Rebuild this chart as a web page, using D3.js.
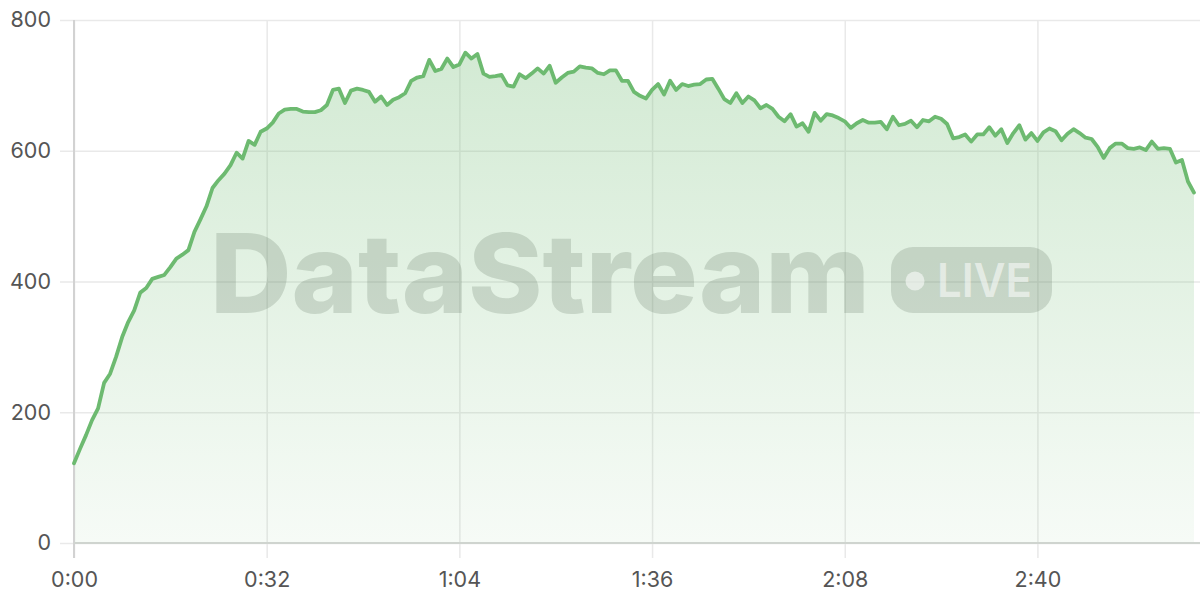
<!DOCTYPE html>
<html>
<head>
<meta charset="utf-8">
<script src="https://cdn.jsdelivr.net/npm/d3@7"></script>
<style>
  html, body { margin: 0; padding: 0; background: #fff; }
  svg { display: block; }
</style>
</head>
<body>
<svg id="chart" width="1200" height="600"></svg>
<script>
// ---- data (one sample per second) ----
const values = [
  122,144,165,188,206,245,259,285,315,338,
  356,383,390,404,407,410,422,435,441,448,
  476,495,515,543,555,565,578,597,588,615,
  609,629,634,643,657,663,664,664,660,659,
  659,662,670,693,695,673,692,695,693,690,
  675,683,670,678,682,688,707,712,714,739,
  722,725,741,728,732,750,741,748,718,713,
  714,716,700,698,717,711,718,726,718,730,
  704,712,719,721,729,727,726,719,717,723,
  723,707,707,690,684,680,693,702,686,707,
  693,702,699,701,702,709,710,695,679,673,
  688,673,683,677,665,670,664,652,645,656,
  637,642,629,658,646,656,654,650,645,635,
  642,647,643,643,644,633,652,639,641,646,
  636,647,645,652,649,641,619,621,625,614,
  625,625,636,623,633,612,627,639,617,627,
  615,628,634,630,616,626,633,627,620,618,
  606,589,604,611,611,604,603,605,601,614,
  603,604,603,582,586,553,536
];
const seconds = values.map((v, i) => i);
const xTicks = [0, 32, 64, 96, 128, 160];
const yTicks = [0, 200, 400, 600, 800];
const watermarkText = "DataStream";
const badgeText = "LIVE";

const data = seconds.map((t, i) => ({ t, v: values[i] }));

// ---- layout ----
const mLeft = 74, mRight = 1200, mTop = 20, mBottom = 543;

const svg = d3.select("#chart");

const x = d3.scaleLinear().domain([0, 187]).range([mLeft, mRight]);
const y = d3.scaleLinear().domain([0, 800]).range([mBottom, mTop]);

const fmt = s => `${Math.floor(s / 60)}:${String(s % 60).padStart(2, "0")}`;

// gradient
const defs = svg.append("defs");
const grad = defs.append("linearGradient")
  .attr("id", "areaGrad")
  .attr("gradientUnits", "userSpaceOnUse")
  .attr("x1", 0).attr("x2", 0)
  .attr("y1", mTop).attr("y2", mBottom);
grad.append("stop").attr("offset", "0%").attr("stop-color", "#6dba70").attr("stop-opacity", 0.32);
grad.append("stop").attr("offset", "100%").attr("stop-color", "#6dba70").attr("stop-opacity", 0.06);

// horizontal grid (y axis)
const yAxis = d3.axisLeft(y)
  .tickValues(yTicks)
  .tickSize(0)
  .tickFormat(d3.format("d"));
const gy = svg.append("g")
  .attr("transform", `translate(${mLeft},0)`)
  .call(yAxis);
gy.select(".domain").remove();
gy.selectAll(".tick line")
  .attr("x1", -14)
  .attr("x2", mRight - mLeft)
  .attr("stroke", "#e9e9e9")
  .attr("stroke-width", 1.5);
gy.selectAll(".tick text")
  .attr("x", -23)
  .attr("fill", "#555")
  .style("font-family", "Inter, 'Noto Sans', sans-serif")
  .style("font-size", "21.5px");

// vertical grid (x axis)
const xAxis = d3.axisBottom(x)
  .tickValues(xTicks)
  .tickSize(0)
  .tickFormat(fmt);
const gx = svg.append("g")
  .attr("transform", `translate(0,${mBottom})`)
  .call(xAxis);
gx.select(".domain").remove();
gx.selectAll(".tick line")
  .attr("y1", mTop - mBottom)
  .attr("y2", 15)
  .attr("stroke", "#e9e9e9")
  .attr("stroke-width", 1.5);
gx.selectAll(".tick text")
  .attr("y", 29)
  .attr("dy", "0.71em")
  .attr("fill", "#555")
  .style("font-family", "Inter, 'Noto Sans', sans-serif")
  .style("font-size", "21.5px");

// area
const area = d3.area()
  .x(d => x(d.t))
  .y0(y(0))
  .y1(d => y(d.v));
svg.append("path")
  .datum(data)
  .attr("d", area)
  .attr("fill", "url(#areaGrad)");

// axis lines
svg.append("line")
  .attr("x1", mLeft).attr("x2", mLeft)
  .attr("y1", mTop).attr("y2", mBottom + 15)
  .attr("stroke", "#d2d2d2").attr("stroke-width", 2);
svg.append("line")
  .attr("x1", mLeft).attr("x2", mRight)
  .attr("y1", mBottom).attr("y2", mBottom)
  .attr("stroke", "#cfd4cf").attr("stroke-width", 2);

// watermark
const wm = svg.append("g");
wm.append("text")
  .attr("x", 210)
  .attr("y", 313)
  .attr("textLength", 660)
  .attr("lengthAdjust", "spacingAndGlyphs")
  .attr("fill", "#4f6650")
  .attr("fill-opacity", 0.2)
  .style("font-family", "Inter, 'Noto Sans', sans-serif")
  .style("font-weight", 800)
  .style("font-size", "110px")
  .text(watermarkText);
wm.append("rect")
  .attr("x", 891).attr("y", 247)
  .attr("width", 161).attr("height", 66)
  .attr("rx", 22).attr("ry", 22)
  .attr("fill", "#4f6650")
  .attr("fill-opacity", 0.2);
wm.append("circle")
  .attr("cx", 915).attr("cy", 281)
  .attr("r", 9.5)
  .attr("fill", "#ffffff")
  .attr("fill-opacity", 0.55);
wm.append("text")
  .attr("x", 937)
  .attr("y", 297)
  .attr("textLength", 95)
  .attr("lengthAdjust", "spacingAndGlyphs")
  .attr("fill", "#ffffff")
  .attr("fill-opacity", 0.55)
  .style("font-family", "Inter, 'Noto Sans', sans-serif")
  .style("font-weight", 600)
  .style("font-size", "47px")
  .text(badgeText);

// line
const line = d3.line()
  .x(d => x(d.t))
  .y(d => y(d.v));
svg.append("path")
  .datum(data)
  .attr("d", line)
  .attr("fill", "none")
  .attr("stroke", "#6dba70")
  .attr("stroke-width", 3.8)
  .attr("stroke-linejoin", "round")
  .attr("stroke-linecap", "round");
</script>
</body>
</html>
